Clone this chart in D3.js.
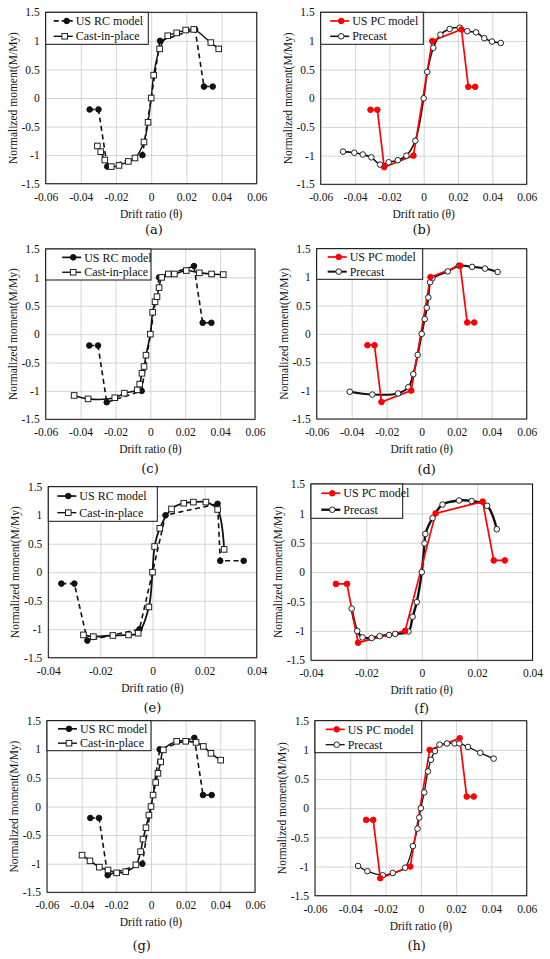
<!DOCTYPE html>
<html>
<head>
<meta charset="utf-8">
<script src="https://cdn.jsdelivr.net/npm/d3@7"></script>
<style>
body { margin: 0; background: #fff; }
svg { display: block; }
</style>
</head>
<body>
<div class="stimulus"></div>
<script>
// ---- data ----
var xTicksWide = [-0.06, -0.04, -0.02, 0, 0.02, 0.04, 0.06];
var xTicksNarrow = [-0.04, -0.02, 0, 0.02, 0.04];
var yTicks = [-1.5, -1, -0.5, 0, 0.5, 1, 1.5];

var rcModelX = [-0.035, -0.03, -0.025, -0.005, 0.005, 0.025, 0.03, 0.035];
var rcModelXe = [-0.035, -0.03, -0.025, -0.005, 0.005, 0.025, 0.026, 0.035];
var rcModelY = [-0.2, -0.2, -1.2, -1.0, 1.0, 1.2, 0.2, 0.2];
var pcModelX = [-0.031, -0.027, -0.023, -0.006, 0.005, 0.022, 0.026, 0.030];
var pcModelY = [-0.2, -0.2, -1.2, -1.0, 1.0, 1.2, 0.2, 0.2];

var castAX = [-0.0306, -0.0287, -0.0264, -0.0227, -0.0183, -0.013, -0.0092, -0.0041, -0.0018, 0, 0.0014, 0.0048, 0.0094, 0.0145, 0.0196, 0.0242, 0.0339, 0.0384];
var castAY = [-0.84, -0.94, -1.085, -1.2, -1.18, -1.11, -1.05, -0.77, -0.426, 0, 0.40, 0.86, 1.09, 1.14, 1.19, 1.20, 0.97, 0.86];

var precastBX = [-0.047, -0.0404, -0.0355, -0.0305, -0.0254, -0.0204, -0.0151, -0.0101, -0.0049, 0, 0.0021, 0.0056, 0.0097, 0.0151, 0.021, 0.0254, 0.0305, 0.0353, 0.0398, 0.0449];
var precastBY = [-0.93, -0.95, -0.98, -1.03, -1.157, -1.116, -1.08, -1.0, -0.74, 0, 0.46, 0.88, 1.11, 1.21, 1.23, 1.17, 1.15, 1.05, 0.99, 0.965];

var castCX = [-0.0437, -0.0357, -0.0204, -0.0149, -0.0075, -0.0061, -0.0048, -0.0036, -0.0025, 0, 0.0013, 0.0027, 0.0038, 0.005, 0.0065, 0.0103, 0.0138, 0.0206, 0.0281, 0.0351, 0.0418];
var castCY = [-1.08, -1.14, -1.12, -1.04, -0.98, -0.88, -0.69, -0.57, -0.37, 0, 0.385, 0.57, 0.66, 0.82, 1.0, 1.06, 1.06, 1.12, 1.08, 1.06, 1.05];

var precastDX = [-0.0411, -0.0282, -0.0135, -0.0076, -0.0048, -0.0023, 0, 0.0017, 0.0029, 0.0038, 0.0048, 0.0061, 0.0149, 0.0213, 0.0288, 0.0362, 0.0434];
var precastDY = [-1.02, -1.07, -1.05, -0.94, -0.71, -0.37, 0, 0.26, 0.46, 0.64, 0.91, 0.98, 1.10, 1.20, 1.18, 1.15, 1.09];

var castEX = [-0.0265, -0.0227, -0.0152, -0.0092, -0.0055, -0.0014, 0, 0.0008, 0.0028, 0.0073, 0.012, 0.0157, 0.0205, 0.025, 0.0275];
var castEY = [-1.10, -1.13, -1.11, -1.10, -1.07, -0.61, 0, 0.45, 0.77, 1.11, 1.21, 1.23, 1.23, 1.10, 0.40];

var precastFX = [-0.0253, -0.0233, -0.0214, -0.0181, -0.0152, -0.0118, -0.0096, -0.0048, -0.0033, -0.0018, 0, 0.001, 0.0013, 0.0039, 0.0075, 0.0135, 0.018, 0.0236, 0.0271];
var precastFY = [-0.62, -1.0, -1.11, -1.12, -1.09, -1.07, -1.05, -1.01, -0.76, -0.51, 0, 0.49, 0.65, 0.92, 1.15, 1.22, 1.21, 1.13, 0.73];

var castGX = [-0.0398, -0.0352, -0.0298, -0.0248, -0.0198, -0.0146, -0.0087, -0.006, -0.0046, -0.0029, -0.0012, 0, 0.0012, 0.0027, 0.004, 0.0056, 0.0071, 0.0148, 0.02, 0.026, 0.0302, 0.0346, 0.0402];
var castGY = [-0.85, -0.95, -1.06, -1.11, -1.16, -1.14, -1.02, -0.79, -0.57, -0.37, -0.15, 0, 0.2, 0.42, 0.58, 0.78, 0.99, 1.14, 1.14, 1.12, 1.05, 0.93, 0.81];

var precastHX = [-0.0356, -0.0303, -0.0216, -0.0159, -0.0089, -0.0045, -0.0019, -0.0009, 0, 0.0019, 0.004, 0.0057, 0.008, 0.0106, 0.0148, 0.0191, 0.0218, 0.0267, 0.0337, 0.0413];
var precastHY = [-0.99, -1.08, -1.15, -1.11, -1.02, -0.65, -0.35, -0.16, 0, 0.27, 0.63, 0.83, 0.98, 1.09, 1.11, 1.11, 1.11, 1.05, 0.95, 0.85];

// ---- layout of the eight panels ----
var panels = [
	{id: "(a)", kind: "rc", mx: rcModelX, my: rcModelY, ex: castAX, ey: castAY, ticks: xTicksWide, dashLeg: true,
	 x0: 45.7, x1: 256.7, y0: 12.3, y1: 183.7, legW: 102.6, legH: 32, legTx: 30, ew: 1.4, letterY: 229, letterX: 154},
	{id: "(b)", kind: "pc", mx: pcModelX, my: pcModelY, ex: precastBX, ey: precastBY, ticks: xTicksWide,
	 x0: 320.7, x1: 526.7, y0: 12.3, y1: 184.3, legW: 102.6, legH: 32, legTx: 31.5, ew: 1.6, letterY: 229, letterX: 421.7},
	{id: "(c)", kind: "rc", mx: rcModelX, my: rcModelY, ex: castCX, ey: castCY, ticks: xTicksWide,
	 x0: 45.7, x1: 255, y0: 249, y1: 419.3, legW: 105.3, legH: 31, legTx: 38.5, ew: 1.6, letterY: 468, letterX: 150},
	{id: "(d)", kind: "pc", mx: pcModelX, my: pcModelY, ex: precastDX, ey: precastDY, ticks: xTicksWide,
	 x0: 316.7, x1: 526.7, y0: 248.7, y1: 419, legW: 106, legH: 30.6, legTx: 33, ew: 2, letterY: 469, letterX: 426.7},
	{id: "(e)", kind: "rc", mx: rcModelXe, my: rcModelY, ex: castEX, ey: castEY, ticks: xTicksNarrow,
	 x0: 48.3, x1: 256.7, y0: 486.7, y1: 657.7, legW: 109, legH: 34.6, legTx: 31, ew: 1.8, letterY: 707, letterX: 152.3},
	{id: "(f)", kind: "pc", mx: pcModelX, my: pcModelY, ex: precastFX, ey: precastFY, ticks: xTicksNarrow,
	 x0: 311, x1: 532.5, y0: 484, y1: 660.3, legW: 91.7, legH: 34.3, legTx: 32.3, ew: 2.4, letterY: 708, letterX: 421.7},
	{id: "(g)", kind: "rc", mx: rcModelX, my: rcModelY, ex: castGX, ey: castGY, ticks: xTicksWide,
	 x0: 47, x1: 255, y0: 720.7, y1: 892.3, legW: 104, legH: 30, legTx: 33, ew: 1.6, letterY: 945, letterX: 141.7},
	{id: "(h)", kind: "pc", mx: pcModelX, my: pcModelY, ex: precastHX, ey: precastHY, ticks: xTicksWide,
	 x0: 315, x1: 526.7, y0: 720.7, y1: 895.7, legW: 106.7, legH: 32, legTx: 32.7, ew: 1.3, letterY: 945, letterX: 416.7}
];

var serif = "Liberation Serif, DejaVu Serif";

function makeStage(w, h) {
	var stage = d3.select(".stimulus")
				  .append("svg")
				  .attr("width", w)
				  .attr("height", h);
	stage.append("rect")
		 .attr("width", w)
		 .attr("height", h)
		 .attr("fill", "#fff");
	return stage;
}

function fmtX(d) {
	return d === 0 ? "0" : d.toFixed(2);
}

function fmtY(d) {
	return String(d);
}

function drawSquare(g, cx, cy) {
	g.append("rect")
	 .attr("x", cx - 2.8)
	 .attr("y", cy - 2.8)
	 .attr("width", 5.6)
	 .attr("height", 5.6)
	 .attr("fill", "#fff")
	 .attr("stroke", "#222")
	 .attr("stroke-width", 1);
}

function drawDot(g, cx, cy, fill, stroke) {
	g.append("circle")
	 .attr("cx", cx)
	 .attr("cy", cy)
	 .attr("r", 2.8)
	 .attr("fill", fill)
	 .attr("stroke", stroke)
	 .attr("stroke-width", 1);
}

function drawPanel(stage, p) {
	var lim = p.ticks[p.ticks.length - 1];
	var x = d3.scaleLinear().domain([-lim, lim]).range([p.x0, p.x1]);
	var y = d3.scaleLinear().domain([-1.5, 1.5]).range([p.y1, p.y0]);
	var w = p.x1 - p.x0, h = p.y1 - p.y0;
	var g = stage.append("g");

	// grid + tick labels via axes
	var xAxis = g.append("g")
				 .attr("transform", "translate(0," + p.y1 + ")")
				 .call(d3.axisBottom(x).tickValues(p.ticks).tickSize(-h).tickPadding(9).tickFormat(fmtX));
	var yAxis = g.append("g")
				 .attr("transform", "translate(" + p.x0 + ",0)")
				 .call(d3.axisLeft(y).tickValues(yTicks).tickSize(-w).tickPadding(6).tickFormat(fmtY));
	[xAxis, yAxis].forEach(function(ax) {
		ax.attr("font-family", serif).attr("font-size", 11.5);
		ax.select(".domain").remove();
		ax.selectAll("line").attr("stroke", "#c9c9c9").attr("stroke-width", 0.8);
		ax.selectAll("text").attr("fill", "#111");
	});

	g.append("rect")
	 .attr("x", p.x0)
	 .attr("y", p.y0)
	 .attr("width", w)
	 .attr("height", h)
	 .attr("fill", "none")
	 .attr("stroke", "#111")
	 .attr("stroke-width", 1);

	var model = p.mx.map(function(v, i) { return [v, p.my[i]]; });
	var exp = p.ex.map(function(v, i) { return [v, p.ey[i]]; });

	var straight = d3.line().x(function(d) { return x(d[0]); }).y(function(d) { return y(d[1]); });
	var smooth = d3.line().x(function(d) { return x(d[0]); }).y(function(d) { return y(d[1]); })
				   .curve(d3.curveCatmullRom.alpha(0.5));

	var isRC = p.kind === "rc";
	var modelColor = isRC ? "#111" : "#ff0000";

	// test curve
	g.append("path")
	 .attr("d", smooth(exp))
	 .attr("fill", "none")
	 .attr("stroke", "#111")
	 .attr("stroke-width", p.ew);

	// model curve
	g.append("path")
	 .attr("d", straight(model))
	 .attr("fill", "none")
	 .attr("stroke", modelColor)
	 .attr("stroke-width", isRC ? 1.6 : 1.7)
	 .attr("stroke-dasharray", isRC ? "5,3.5" : null);

	if (isRC) {
		model.forEach(function(d) { drawDot(g, x(d[0]), y(d[1]), "#111", "#111"); });
		exp.forEach(function(d) { drawSquare(g, x(d[0]), y(d[1])); });
	} else {
		exp.forEach(function(d) { drawDot(g, x(d[0]), y(d[1]), "#fff", "#222"); });
		model.forEach(function(d) { drawDot(g, x(d[0]), y(d[1]), "#ff0000", "#ff0000"); });
	}

	// legend
	var leg = g.append("g").attr("transform", "translate(" + p.x0 + "," + p.y0 + ")");
	leg.append("rect")
	   .attr("width", p.legW)
	   .attr("height", p.legH)
	   .attr("fill", "#fff")
	   .attr("stroke", "#111")
	   .attr("stroke-width", 1);
	var r1 = p.legH * 0.27, r2 = p.legH * 0.75;
	var lx0 = p.legTx - 22, lx1 = p.legTx - 3, lm = p.legTx - 11;
	leg.append("line")
	   .attr("x1", lx0).attr("x2", lx1).attr("y1", r1).attr("y2", r1)
	   .attr("stroke", modelColor)
	   .attr("stroke-width", 1.7)
	   .attr("stroke-dasharray", (isRC && p.dashLeg) ? "5,3" : null);
	drawDot(leg, isRC && p.dashLeg ? lm + 2 : lm, r1, modelColor, modelColor);
	leg.append("line")
	   .attr("x1", lx0).attr("x2", lx1).attr("y1", r2).attr("y2", r2)
	   .attr("stroke", "#111")
	   .attr("stroke-width", isRC ? 1.4 : p.ew);
	if (isRC) drawSquare(leg, lm, r2);
	else drawDot(leg, lm, r2, "#fff", "#222");

	var names = isRC ? ["US RC model", "Cast-in-place"] : ["US PC model", "Precast"];
	leg.selectAll("text.lab")
	   .data(names)
	   .enter()
	   .append("text")
	   .attr("class", "lab")
	   .attr("x", p.legTx)
	   .attr("y", function(d, i) { return i === 0 ? r1 : r2; })
	   .attr("dy", "0.35em")
	   .attr("font-family", serif)
	   .attr("font-size", 12)
	   .attr("fill", "#111")
	   .text(function(d) { return d; });

	// axis titles
	g.append("text")
	 .attr("x", (p.x0 + p.x1) / 2)
	 .attr("y", p.y1 + 30)
	 .attr("dy", "0.35em")
	 .attr("text-anchor", "middle")
	 .attr("font-family", serif)
	 .attr("font-size", 11.5)
	 .attr("fill", "#111")
	 .text("Drift ratio (\u03b8)");

	g.append("text")
	 .attr("transform", "translate(" + (p.x0 - 33) + "," + ((p.y0 + p.y1) / 2) + ") rotate(-90)")
	 .attr("dy", "0.35em")
	 .attr("text-anchor", "middle")
	 .attr("font-family", serif)
	 .attr("font-size", 11.5)
	 .attr("fill", "#111")
	 .text("Normalized moment(M/My)");

	g.append("text")
	 .attr("x", p.letterX)
	 .attr("y", p.letterY)
	 .attr("dy", "0.35em")
	 .attr("text-anchor", "middle")
	 .attr("font-family", "DejaVu Serif")
	 .attr("font-size", 13)
	 .attr("fill", "#111")
	 .text(p.id);
}

var myStage = makeStage(550, 959);
panels.forEach(function(p) {
	drawPanel(myStage, p);
});
</script>
</body>
</html>
